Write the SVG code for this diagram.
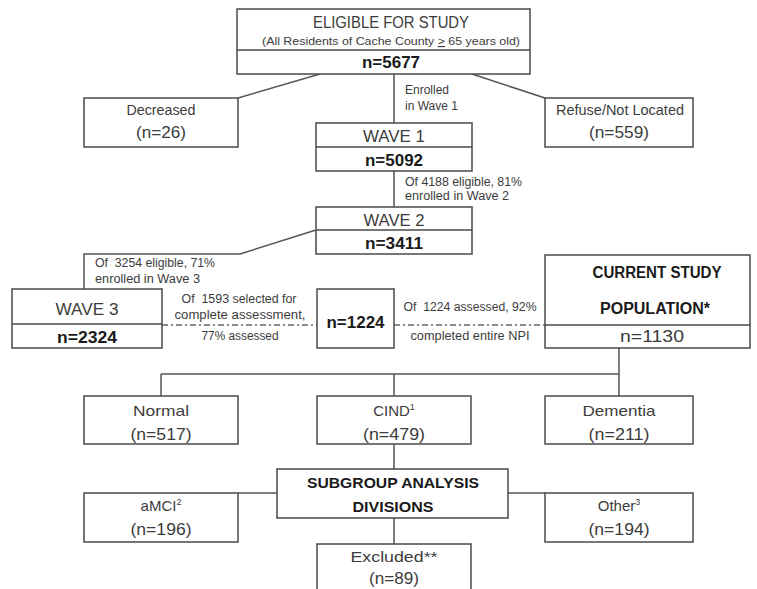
<svg xmlns="http://www.w3.org/2000/svg" width="757" height="589" viewBox="0 0 757 589">
<style>
.box{fill:#fff;stroke:#4a4a4a;stroke-width:1.5}
.dv{stroke:#4a4a4a;stroke-width:1.5}
.ln{fill:none;stroke:#555;stroke-width:1.5}
.dd{fill:none;stroke:#666;stroke-width:1.5;stroke-dasharray:6 3 2 3}
text{font-family:"Liberation Sans",Arial,sans-serif;fill:#3c3c3c}
.c{text-anchor:middle}
.b{font-weight:bold;fill:#1a1a1a}
.s{font-size:12px}
.m{font-size:15px}
.l{font-size:16px}
.sup{font-size:9px}
</style>
<rect width="757" height="589" fill="#fff"/>
<g id="connectors">
<path class="ln" d="M320,74 L238,98"/>
<path class="ln" d="M472,74 L545,98"/>
<path class="ln" d="M394,74 V123"/>
<path class="ln" d="M394,171 V207"/>
<path class="ln" d="M316,230 L240,254 H84 V289"/>
<path class="dd" d="M162,325 H317"/>
<path class="dd" d="M394,325 H545"/>
<path class="ln" d="M619,348 V396 M161,374 H619 M161,374 V396 M394,374 V396"/>
<path class="ln" d="M394,444 V469 M394,518 V544"/>
<path class="ln" d="M238,493 H277 M508,493 H545"/>
</g>
<g id="eligible">
<rect class="box" x="237" y="9" width="293" height="65"/>
<line class="dv" x1="237" y1="50" x2="530" y2="50"/>
<text class="c l" x="391" y="28" textLength="156" lengthAdjust="spacingAndGlyphs">ELIGIBLE FOR STUDY</text>
<text class="c" x="391" y="45" font-size="11.5" textLength="258" lengthAdjust="spacingAndGlyphs">(All Residents of Cache County <tspan text-decoration="underline">&gt;</tspan> 65 years old)</text>
<text class="c l b" x="391" y="68" textLength="58" lengthAdjust="spacingAndGlyphs">n=5677</text>
</g>
<g id="decreased">
<rect class="box" x="84" y="98" width="154" height="49"/>
<text class="c m" x="161" y="115" textLength="69" lengthAdjust="spacingAndGlyphs">Decreased</text>
<text class="c l" x="161" y="138" textLength="50" lengthAdjust="spacingAndGlyphs">(n=26)</text>
</g>
<g id="refuse">
<rect class="box" x="545" y="98" width="148" height="49"/>
<text class="c m" x="620" y="115" textLength="128" lengthAdjust="spacingAndGlyphs">Refuse/Not Located</text>
<text class="c l" x="619" y="138" textLength="60" lengthAdjust="spacingAndGlyphs">(n=559)</text>
</g>
<g id="enrolled-label">
<text class="s" x="405" y="94">Enrolled</text>
<text class="s" x="405" y="110">in Wave 1</text>
</g>
<g id="wave1">
<rect class="box" x="316" y="123" width="156" height="48"/>
<line class="dv" x1="316" y1="147" x2="472" y2="147"/>
<text class="c l" x="394" y="142" textLength="62" lengthAdjust="spacingAndGlyphs">WAVE 1</text>
<text class="c l b" x="394" y="166" textLength="58" lengthAdjust="spacingAndGlyphs">n=5092</text>
</g>
<g id="wave2-label">
<text class="s" x="405" y="186" textLength="117" lengthAdjust="spacingAndGlyphs">Of 4188 eligible, 81%</text>
<text class="s" x="405" y="200" textLength="104" lengthAdjust="spacingAndGlyphs">enrolled in Wave 2</text>
</g>
<g id="wave2">
<rect class="box" x="316" y="207" width="156" height="47"/>
<line class="dv" x1="316" y1="230" x2="472" y2="230"/>
<text class="c l" x="394" y="226" textLength="61" lengthAdjust="spacingAndGlyphs">WAVE 2</text>
<text class="c l b" x="394" y="249" textLength="58" lengthAdjust="spacingAndGlyphs">n=3411</text>
</g>
<g id="wave3-label">
<text class="s" x="95" y="267" textLength="120" lengthAdjust="spacingAndGlyphs">Of&#160; 3254 eligible, 71%</text>
<text class="s" x="95" y="283" textLength="105" lengthAdjust="spacingAndGlyphs">enrolled in Wave 3</text>
</g>
<g id="wave3">
<rect class="box" x="12" y="289" width="150" height="59"/>
<line class="dv" x1="12" y1="324" x2="162" y2="324"/>
<text class="c l" x="87" y="315" textLength="63" lengthAdjust="spacingAndGlyphs">WAVE 3</text>
<text class="c l b" x="87" y="343" textLength="60" lengthAdjust="spacingAndGlyphs">n=2324</text>
</g>
<g id="assess-label">
<text class="c s" x="239" y="303" textLength="115" lengthAdjust="spacingAndGlyphs">Of&#160; 1593 selected for</text>
<text class="c s" x="240" y="319" textLength="131" lengthAdjust="spacingAndGlyphs">complete assessment,</text>
<text class="c s" x="240" y="340" textLength="77" lengthAdjust="spacingAndGlyphs">77% assessed</text>
</g>
<g id="assessed">
<rect class="box" x="317" y="289" width="77" height="59"/>
<text class="c l b" x="355.5" y="328" textLength="58" lengthAdjust="spacingAndGlyphs">n=1224</text>
</g>
<g id="npi-label">
<text class="c s" x="470" y="311" textLength="133" lengthAdjust="spacingAndGlyphs">Of&#160; 1224 assessed, 92%</text>
<text class="c s" x="470" y="340" textLength="119" lengthAdjust="spacingAndGlyphs">completed entire NPI</text>
</g>
<g id="current">
<rect class="box" x="545" y="255" width="205" height="93"/>
<line class="dv" x1="545" y1="325" x2="750" y2="325"/>
<text class="c l b" x="657" y="278" textLength="129" lengthAdjust="spacingAndGlyphs">CURRENT STUDY</text>
<text class="c l b" x="655" y="314" textLength="110" lengthAdjust="spacingAndGlyphs">POPULATION*</text>
<text class="c l" x="652" y="342" textLength="64" lengthAdjust="spacingAndGlyphs" fill="#222">n=1130</text>
</g>
<g id="normal">
<rect class="box" x="84" y="396" width="154" height="48"/>
<text class="c m" x="161" y="416" textLength="56" lengthAdjust="spacingAndGlyphs">Normal</text>
<text class="c l" x="161" y="440" textLength="61" lengthAdjust="spacingAndGlyphs">(n=517)</text>
</g>
<g id="cind">
<rect class="box" x="317" y="396" width="154" height="48"/>
<text class="c m" x="394" y="416">CIND<tspan class="sup" dy="-6">1</tspan></text>
<text class="c l" x="394" y="440" textLength="62" lengthAdjust="spacingAndGlyphs">(n=479)</text>
</g>
<g id="dementia">
<rect class="box" x="545" y="396" width="148" height="48"/>
<text class="c m" x="619" y="416" textLength="73" lengthAdjust="spacingAndGlyphs">Dementia</text>
<text class="c l" x="619" y="440" textLength="61" lengthAdjust="spacingAndGlyphs">(n=211)</text>
</g>
<g id="subgroup">
<rect class="box" x="277" y="469" width="231" height="49"/>
<text class="c m b" x="393" y="488" textLength="172" lengthAdjust="spacingAndGlyphs">SUBGROUP ANALYSIS</text>
<text class="c m b" x="393" y="512" textLength="81" lengthAdjust="spacingAndGlyphs">DIVISIONS</text>
</g>
<g id="amci">
<rect class="box" x="84" y="493" width="154" height="49"/>
<text class="c m" x="161" y="511">aMCI<tspan class="sup" dy="-6">2</tspan></text>
<text class="c l" x="161" y="535" textLength="61" lengthAdjust="spacingAndGlyphs">(n=196)</text>
</g>
<g id="other">
<rect class="box" x="545" y="493" width="148" height="49"/>
<text class="c m" x="619" y="511">Other<tspan class="sup" dy="-6">3</tspan></text>
<text class="c l" x="619" y="535" textLength="61" lengthAdjust="spacingAndGlyphs">(n=194)</text>
</g>
<g id="excluded">
<rect class="box" x="317" y="544" width="154" height="50"/>
<text class="c m" x="394" y="562" textLength="87" lengthAdjust="spacingAndGlyphs">Excluded**</text>
<text class="c l" x="394" y="584" textLength="50" lengthAdjust="spacingAndGlyphs">(n=89)</text>
</g>
</svg>
